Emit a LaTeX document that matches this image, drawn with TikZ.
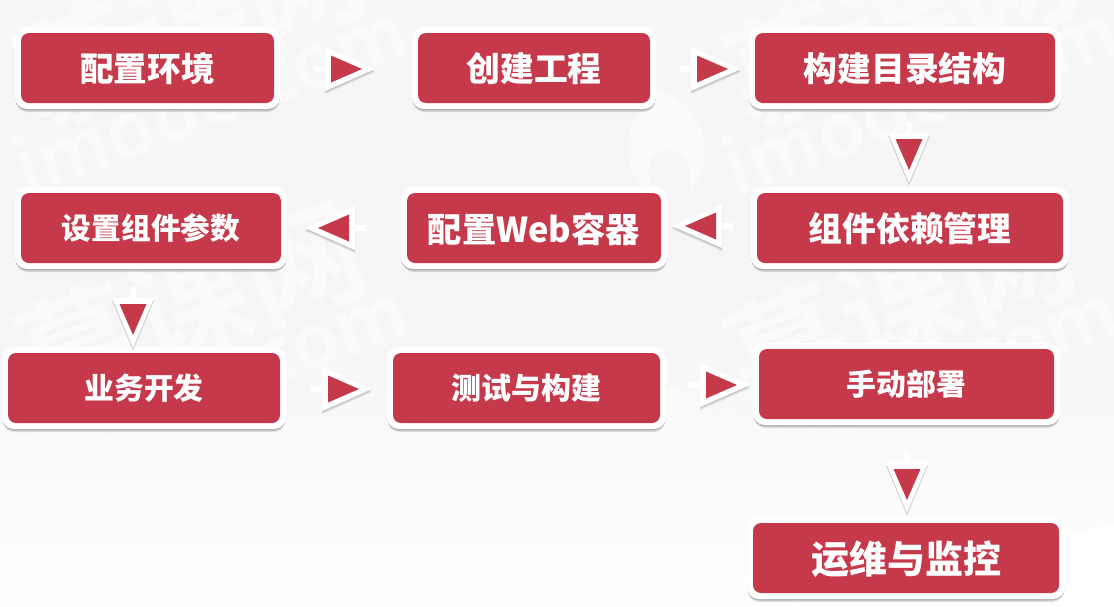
\documentclass[tikz,border=0pt]{standalone}
\usepackage{fontspec}
\setmainfont{Noto Sans CJK SC}[BoldFont={* Bold}]
\newfontfamily\heavy{Noto Sans CJK SC Black}
\usetikzlibrary{calc}
\definecolor{boxred}{HTML}{C6394A}
\definecolor{wmgray}{HTML}{FAFAFA}
\definecolor{bggray}{HTML}{F6F6F6}
\definecolor{bgtop}{HTML}{FCFCFC}
\pgfdeclareverticalshading{bgband}{100bp}{
  color(0bp)=(white); color(34bp)=(white); color(46bp)=(bggray); color(58bp)=(bggray); color(68bp)=(bgtop); color(100bp)=(bgtop)}
\tikzset{
  x=1pt,y=1pt,
  boxshadow/.style={fill=black,fill opacity=0.11,rounded corners=12pt},
  redbox/.style={fill=boxred,draw=none,rounded corners=8pt},
  whitebox/.style={fill=white,rounded corners=12pt},
  label/.style={text=white,inner sep=0pt,anchor=center},
  arrowred/.style={fill=boxred,draw=none},
  arrowwhite/.style={fill=white,draw=none},
  arrowshadow/.style={fill=black,fill opacity=0.10,draw=none},
  wm/.style={text=wmgray,inner sep=0pt,rotate=20.5},
  flame/.style={fill=wmgray,draw=none},
}
\newcommand{\flowbox}[8]{%
  \foreach \d in {1,2,3,4}{\fill[boxshadow] (#2-5.5,-#3+4-\d) rectangle (#4+5.5,-#5-5-\d);}
  \fill[whitebox] (#2-6,-#3+6) rectangle (#4+6,-#5-6);
  \fill[redbox] (#2,-#3) rectangle (#4,-#5);
  \node[label,font=\fontsize{#6}{#6}\selectfont\heavy] (#1) at ({(#2+#4)/2},{-(#3+#5)/2-#7}) {#8};
}
\newcommand{\flowarrow}[4]{%
  \begin{scope}[shift={(#1,-#2)},rotate=#3]
    \fill[arrowwhite] (-11,-3) rectangle (1,3);
  \end{scope}
  \foreach \s in {1.5,3}{
  \begin{scope}[shift={(#1,-#2-\s)},rotate=#3]
    \fill[arrowshadow] (0,-#4) -- (50,0) -- (0,#4) -- cycle;
  \end{scope}}
  \begin{scope}[shift={(#1,-#2)},rotate=#3]
    \fill[arrowwhite] (0,-#4) -- (50,0) -- (0,#4) -- cycle;
    \fill[arrowred] (6,-13.5) -- (37,0) -- (6,13.5) -- cycle;
  \end{scope}
}
\newcommand{\flamemark}[2]{%
  \begin{scope}[shift={(#1,-#2)}]
    \fill[flame] (-6,60) .. controls (-50,35) and (-50,-30) .. (-12,-45)
      .. controls (-30,-10) and (-10,0) .. (0,0) .. controls (10,0) and (25,-5) .. (22,-45)
      .. controls (45,-10) and (45,35) .. (-6,60) -- cycle;
  \end{scope}
}
\begin{document}
\begin{tikzpicture}
\useasboundingbox (0,0) rectangle (1114,-606);
\begin{scope}
\clip (0,0) rectangle (1114,-606);
\fill[white] (0,0) rectangle (1114,-606);
\begin{scope}[shift={(557,-250)},rotate=14]
  \shade[shading=bgband] (-800,-400) rectangle (800,400);
\end{scope}
\flamemark{668}{150}
\flamemark{680}{445}
\foreach \dx/\dy in {0/0,710/0,0/280,710/280}{
  \node[wm,font=\fontsize{76}{76}\selectfont\bfseries] at (210+\dx,-97-\dy) {imooc.com};
  \node[wm,font=\fontsize{120}{120}\selectfont\bfseries] at (190+\dx,-25-\dy) {慕课网};
}
\end{scope}
\flowbox{a}{21}{33}{274}{103}{33.6}{1}{配置环境}
\flowbox{b}{418}{33}{650}{103}{33.8}{1}{创建工程}
\flowbox{c}{755}{33}{1055}{103}{33.8}{1}{构建目录结构}
\flowbox{d}{757}{193}{1063}{263}{33.8}{0.5}{组件依赖管理}
\flowbox{e}{407}{193}{661}{263}{34.3}{1}{配置Web容器}
\flowbox{f}{21}{193}{281}{263}{29.7}{0}{设置组件参数}
\flowbox{g}{8}{353}{280}{423}{29.8}{0.5}{业务开发}
\flowbox{h}{393}{353}{660}{423}{30}{0.5}{测试与构建}
\flowbox{i}{759}{349}{1054}{419}{29.8}{0}{手动部署}
\flowbox{j}{753}{523}{1059}{593}{38}{1}{运维与监控}
\flowarrow{325}{69}{0}{22}
\flowarrow{691}{69}{0}{22}
\flowarrow{909}{133}{-90}{21}
\flowarrow{722}{226}{180}{22}
\flowarrow{355}{228}{180}{22}
\flowarrow{133}{298}{-90}{21}
\flowarrow{322}{389}{0}{22}
\flowarrow{700}{385}{0}{22}
\flowarrow{907}{463}{-90}{21}
\end{tikzpicture}
\end{document}
